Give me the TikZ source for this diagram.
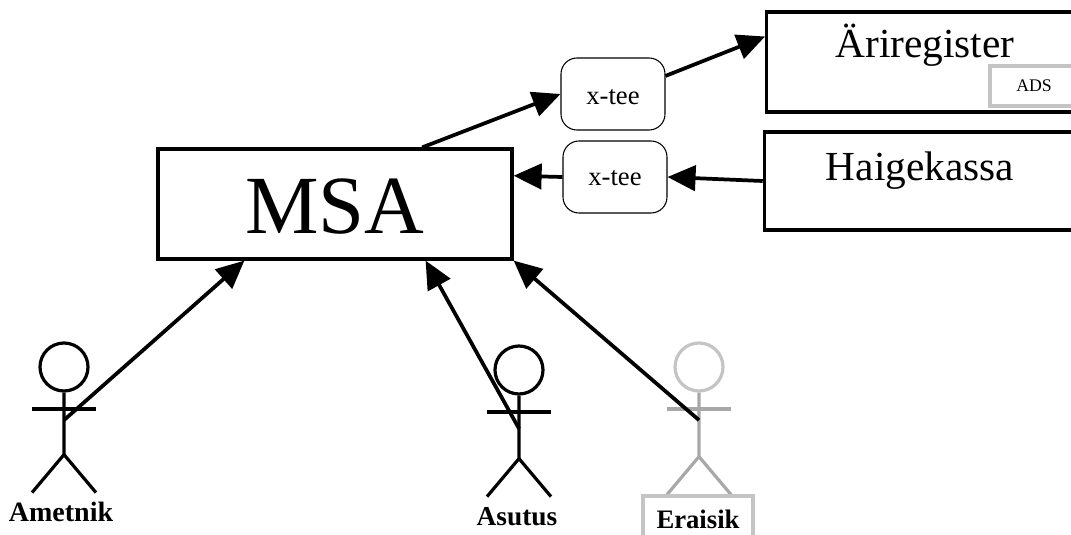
\documentclass[tikz,border=0pt]{standalone}
\usepackage{fontspec}
\setmainfont{Liberation Serif}
\usetikzlibrary{arrows.meta}
\definecolor{headgray}{HTML}{C4C4C4}
\definecolor{bodygray}{HTML}{A8A8A8}
\begin{document}
\begin{tikzpicture}[x=.75pt,y=-.75pt,
box/.style={draw,rectangle,line width=2.4pt,inner sep=0pt},
xtee/.style={draw,rectangle,rounded corners=12pt,line width=.8pt,minimum width=78pt,minimum height=54pt,text depth=0pt,font=\fontsize{20}{24}\selectfont},
head/.style={draw,circle,line width=2.4pt,minimum size=36pt,inner sep=0pt},
limb/.style={line width=2.4pt},
arr/.style={line width=2.8pt,-{Triangle[length=21pt,width=19pt]}},
who/.style={anchor=base,inner sep=0pt}]
\useasboundingbox (0,0) rectangle (1071,535);
\clip (0,0) rectangle (1071,535);
\node (msa) [box,minimum width=265.5pt,minimum height=82.5pt] at (335,204) {};
\node (msatxt) [anchor=base,inner sep=0pt,font=\fontsize{62}{70}\selectfont] at (335,233) {MSA};
\node (arireg) [box,minimum width=239pt,minimum height=75pt] at (926,62) {};
\node (aritxt) [anchor=base,inner sep=0pt,font=\fontsize{31}{36}\selectfont] at (925,58) {Äriregister};
\node (ads) [box,draw=headgray,minimum width=66pt,minimum height=30pt,font=\fontsize{13.3}{16}\selectfont] at (1034,86) {ADS};
\node (haige) [box,minimum width=241pt,minimum height=73.5pt] at (925,181) {};
\node (haitxt) [anchor=base,inner sep=0pt,font=\fontsize{31}{36}\selectfont] at (920,180) {Haigekassa};
\node (xteea) [xtee,text height=15pt] at (613,94) {x-tee};
\node (xteeb) [xtee,text height=12pt] at (615,177) {x-tee};
% actors: name, x, y of head, colours, body length, where the arrow starts on the body
\foreach \nm/\x/\y/\hcol/\bcol/\len/\st in {
    amet/64/367/black/black/62/27.5,
    asut/519/370/black/black/63/33,
    era/699/367/headgray/bodygray/64/27.5} {
  \node (\nm) [head,draw=\hcol] at (\x,\y) {};
  \draw[limb,draw=\bcol] (\nm.south) -- ++(0,\len) coordinate (\nm-hip) -- ++(-32,38);
  \draw[limb,draw=\bcol] (\nm-hip) -- ++(32,38);
  \draw[limb,draw=\bcol,line width=3pt] ([xshift=-24pt,yshift=-12pt]\nm.south) -- ([xshift=24pt,yshift=-12pt]\nm.south);
  \coordinate (\nm-from) at ([yshift=-.75pt*\st]\nm.south);
}
\node (ametl) [who,font=\bfseries\fontsize{21}{24}\selectfont] at (61,521) {Ametnik};
\node (asutl) [who,font=\bfseries\fontsize{20.5}{24}\selectfont] at (517,525) {Asutus};
\node (eral) [box,draw=headgray,minimum width=82.5pt,minimum height=34.5pt,font=\bfseries\fontsize{20}{24}\selectfont] at (698,519) {Eraisik};
\draw[arr] (msa.33) -- (xteea.west);
\draw[arr] (xteea.19) -- (arireg.171);
\draw[arr] (haige.west) -- (xteeb.east);
\draw[arr] (xteeb.west) -- (msa.9);
\draw[arr] (amet-from) -- (msa.212);
\draw[arr] (asut-from) -- (msa.328);
\draw[arr] (era-from) -- (msa.south east);
\end{tikzpicture}
\end{document}
